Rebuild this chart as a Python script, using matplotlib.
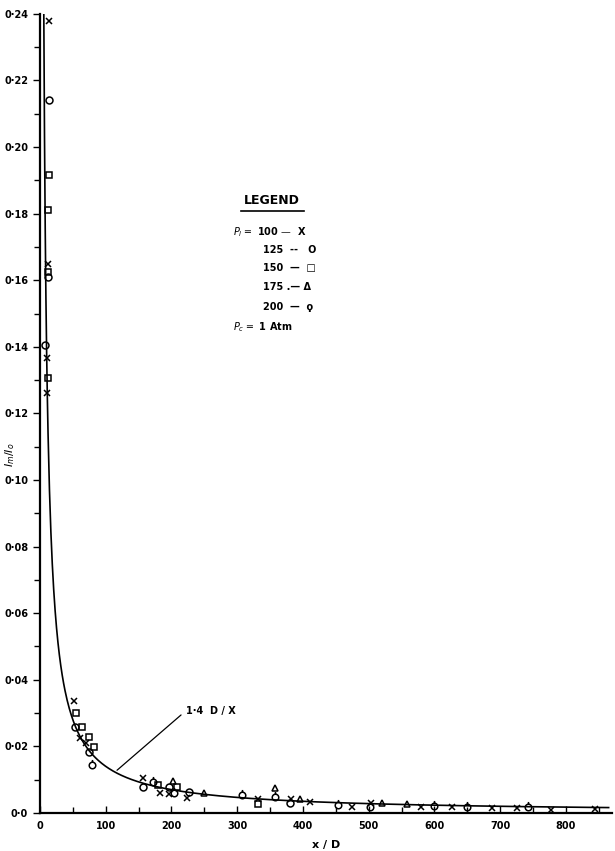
import numpy as np
import matplotlib
matplotlib.use('Agg')
from matplotlib import pyplot as plt
from matplotlib.path import Path
from matplotlib.ticker import MultipleLocator, FuncFormatter

# data (x/D, Im/Io) per pressure P1
p100_x = [13, 12, 11, 11, 52, 61, 70, 156, 183, 196, 224, 331, 382, 410, 474, 503, 579, 626, 688, 726, 777, 845]
p100_y = [0.238, 0.165, 0.1366, 0.126, 0.0337, 0.0224, 0.0211, 0.0104, 0.0061, 0.0057, 0.0044, 0.0041, 0.0041, 0.0034, 0.0019, 0.0029, 0.0019, 0.0019, 0.0014, 0.0014, 0.0009, 0.0011]

p125_x = [13, 12, 8, 53, 74, 156, 196, 226, 381]
p125_y = [0.214, 0.161, 0.1405, 0.0257, 0.0184, 0.0079, 0.0077, 0.0064, 0.0029]

p150_x = [13, 12, 12, 12, 55, 64, 74, 82, 180, 208, 332]
p150_y = [0.1916, 0.181, 0.1625, 0.1306, 0.030, 0.0258, 0.0229, 0.0197, 0.0084, 0.0079, 0.0027]

p175_x = [202, 249, 358, 395, 521, 558]
p175_y = [0.0096, 0.0059, 0.0076, 0.0041, 0.0031, 0.0026]

p200_x = [79, 172, 204, 307, 358, 454, 502, 600, 649, 743]
p200_y = [0.0144, 0.0094, 0.0059, 0.0054, 0.0049, 0.0024, 0.0019, 0.0021, 0.0019, 0.0017]

coef = 1.4  # fitted curve Im/Io = 1.4 D/X

# circle with a short stem on top, the "200" symbol
stem = Path.make_compound_path(Path.unit_circle(), Path([[0, 1], [0, 1.7]]))

fig = plt.figure(figsize=(6.15, 8.51), dpi=100)
ax = fig.add_axes([0.065, 0.0447, 0.93, 0.939])

xc = np.linspace(5.83, 865, 800)
ax.plot(xc, coef / xc, color='black', lw=1.2)

mk = dict(color='black', linestyle='none', markerfacecolor='none', markeredgewidth=1.1)
ax.plot(p100_x, p100_y, marker='x', markersize=5, **mk)
ax.plot(p125_x, p125_y, marker='o', markersize=5, **mk)
ax.plot(p150_x, p150_y, marker='s', markersize=5, **mk)
ax.plot(p175_x, p175_y, marker='^', markersize=5, **mk)
ax.plot(p200_x, p200_y, marker=stem, markersize=8, **mk)

ax.set_xlim(0, 870)
ax.set_ylim(0, 0.24)
ax.spines['top'].set_visible(False)
ax.spines['right'].set_visible(False)
ax.spines['left'].set_linewidth(1.6)
ax.spines['bottom'].set_linewidth(1.6)

ax.xaxis.set_major_locator(MultipleLocator(100))
ax.xaxis.set_minor_locator(MultipleLocator(50))
ax.yaxis.set_major_locator(MultipleLocator(0.02))
ax.yaxis.set_minor_locator(MultipleLocator(0.01))

def yfmt(v, pos):
    n = int(round(v * 100))
    return '0·0' if n == 0 else '0·%02d' % n

ax.yaxis.set_major_formatter(FuncFormatter(yfmt))
ax.tick_params(axis='x', which='both', direction='in', labelsize=7, pad=6)
ax.tick_params(axis='y', which='both', direction='out', labelsize=7)
ax.tick_params(which='major', length=5, width=1)
ax.tick_params(which='minor', length=4, width=1)
for lab in ax.get_xticklabels() + ax.get_yticklabels():
    lab.set_fontweight('bold')

ax.set_xlabel('x / D', fontsize=8, fontweight='bold', labelpad=6)
ax.set_ylabel('$I_m / I_o$', fontsize=8)
ax.yaxis.set_label_coords(-0.04, 0.448)

ax.annotate('1·4  D / X', xy=(114, coef / 114), xytext=(222, 0.0307),
            fontsize=7, fontweight='bold', va='center',
            arrowprops=dict(arrowstyle='-', color='black', lw=0.9, relpos=(0, 0.5)))

# legend block drawn as text
tf = dict(fontsize=7, fontweight='bold', transform=fig.transFigure)
def fx(px): return px / 615
def fy(py): return 1 - py / 851
fig.text(fx(272), fy(201), 'LEGEND', fontsize=9, fontweight='bold', ha='center', va='center',
         transform=fig.transFigure)
fig.add_artist(plt.Line2D([fx(241), fx(304)], [fy(211), fy(211)], color='black', lw=1.2,
                          transform=fig.transFigure))
fig.text(fx(233), fy(232), '$P_l$ ═  100 —  X', va='center', **tf)
fig.text(fx(263), fy(250), '125  --   O', va='center', **tf)
fig.text(fx(263), fy(268), '150  —  □', va='center', **tf)
fig.text(fx(263), fy(287), '175 .— Δ', va='center', **tf)
fig.text(fx(263), fy(307), '200  —  ϙ', va='center', **tf)
fig.text(fx(233), fy(327), '$P_c$ ═  1 Atm', va='center', **tf)

fig.savefig('out.png', dpi=100)
